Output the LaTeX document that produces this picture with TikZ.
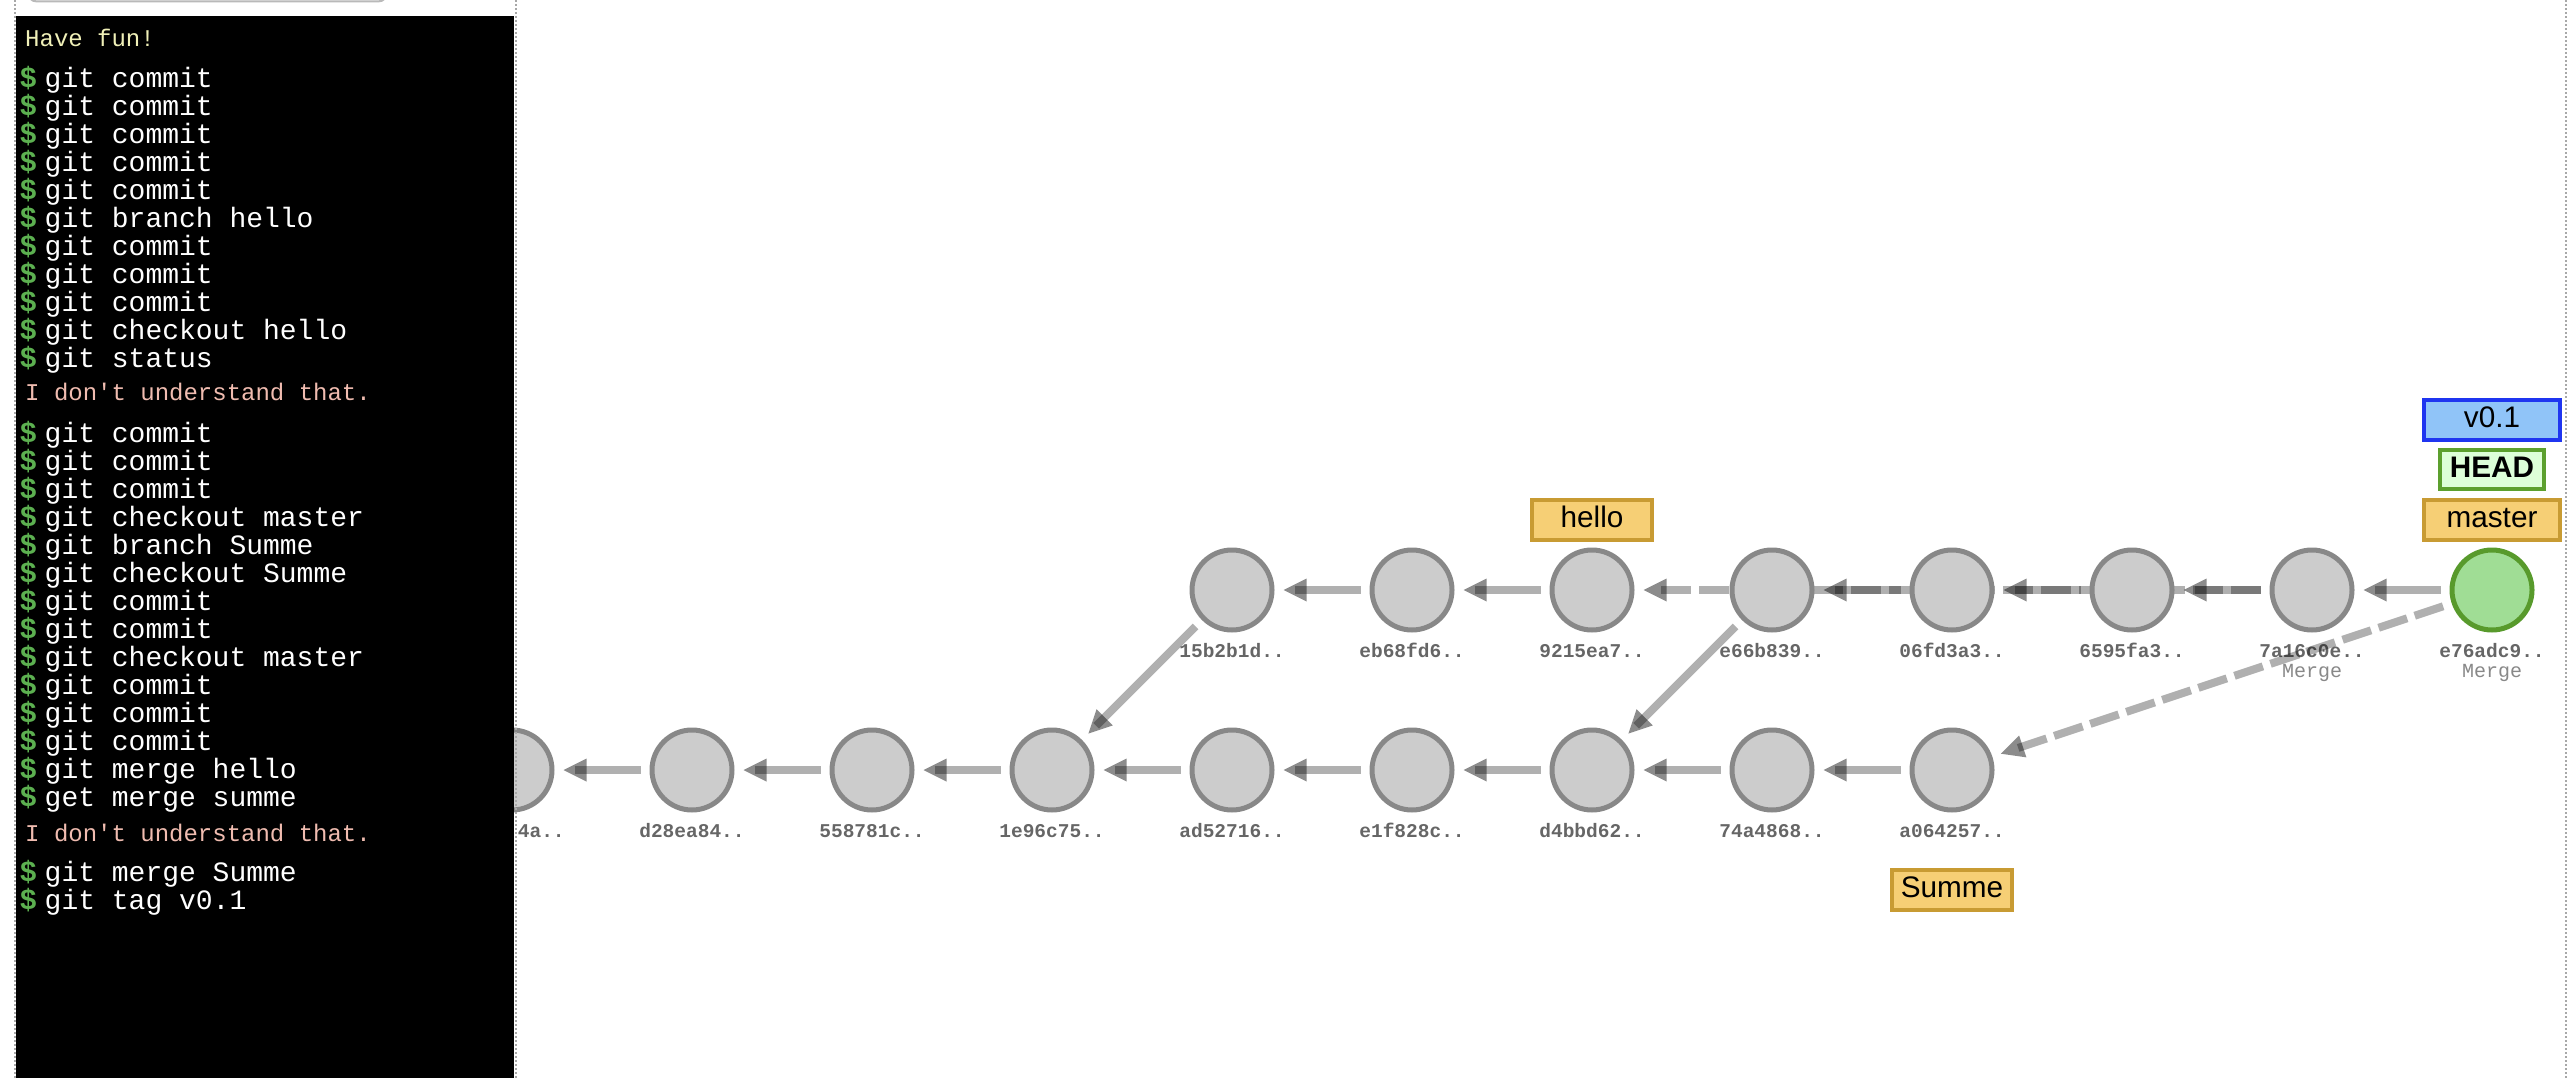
\documentclass[tikz,border=0pt]{standalone}
\usepackage{fontspec}
\setmainfont{Liberation Sans}
\newfontfamily\monofont{Liberation Mono}
\usetikzlibrary{decorations.markings}
\pgfdeclarelayer{bg}
\pgfdeclarelayer{fg}
\pgfsetlayers{bg,main,fg}
\definecolor{nodefill}{HTML}{CCCCCC}
\definecolor{nodedraw}{HTML}{888888}
\definecolor{headfill}{HTML}{A0DD95}
\definecolor{headdraw}{HTML}{589A2C}
\definecolor{brfill}{HTML}{F6CF75}
\definecolor{brdraw}{HTML}{C89B33}
\definecolor{tagfill}{HTML}{90C4F8}
\definecolor{tagdraw}{HTML}{1F35F0}
\definecolor{hfill}{HTML}{DDFFD8}
\definecolor{hdraw}{HTML}{5CA02E}
\definecolor{hashcol}{HTML}{666666}
\definecolor{mergecol}{HTML}{888888}
\definecolor{funcol}{HTML}{F0F0B8}
\definecolor{errcol}{HTML}{F0BCB0}
\definecolor{promptcol}{HTML}{5CB050}
\definecolor{dotcol}{HTML}{A8A8A8}
\tikzset{
  commit/.style={circle, minimum size=80pt, inner sep=0pt, line width=5pt, draw=nodedraw, fill=nodefill},
  headcommit/.style={commit, draw=headdraw, fill=headfill},
  hashlbl/.style={anchor=base, inner sep=0pt, text=hashcol, font=\monofont\bfseries\fontsize{19.5}{19.5}\selectfont},
  mergelbl/.style={anchor=base, inner sep=0pt, text=mergecol, font=\monofont\fontsize{20}{20}\selectfont},
  refbox/.style={rectangle, line width=4pt, inner sep=0pt, minimum height=39.4pt, text height=21.7pt, text depth=6.2pt, font=\fontsize{29.7}{29.7}\selectfont},
  branchbox/.style={refbox, draw=brdraw, fill=brfill},
  tagbox/.style={refbox, draw=tagdraw, fill=tagfill},
  headbox/.style={refbox, draw=hdraw, fill=hfill, minimum height=38.7pt, font=\bfseries\fontsize{29.7}{29.7}\selectfont},
  edgeline/.style={line width=8pt, draw=black, draw opacity=0.31, shorten <=9pt, shorten >=20pt,
    postaction={decorate},
    decoration={markings, mark=at position -9pt with {\fill[black, fill opacity=0.45] (0pt,0pt) -- (-23pt,11.5pt) -- (-23pt,-11.5pt) -- cycle;}}},
  mergeline/.style={edgeline, dash pattern=on 30pt off 8pt},
  cmdtext/.style={anchor=base west, inner sep=0pt, text=white, font=\monofont\fontsize{28}{28}\selectfont},
  prompttext/.style={anchor=base west, inner sep=0pt, text=promptcol, font=\monofont\bfseries\fontsize{29}{29}\selectfont},
  msgtext/.style={anchor=base west, inner sep=0pt, font=\monofont\fontsize{24}{24}\selectfont},
  dotborder/.style={draw=dotcol, line width=2.5pt, dash pattern=on 2pt off 2pt},
}
\begin{document}
\begin{tikzpicture}[x=1pt,y=-1pt]
\useasboundingbox (0,0) rectangle (2576,1078);

% commits, bottom row
\node[commit] (B0) at (512,770) {};
\node[commit] (B1) at (692,770) {};
\node[commit] (B2) at (872,770) {};
\node[commit] (B3) at (1052,770) {};
\node[commit] (B4) at (1232,770) {};
\node[commit] (B5) at (1412,770) {};
\node[commit] (B6) at (1592,770) {};
\node[commit] (B7) at (1772,770) {};
\node[commit] (B8) at (1952,770) {};
% commits, top row
\node[commit] (T4) at (1232,590) {};
\node[commit] (T5) at (1412,590) {};
\node[commit] (T6) at (1592,590) {};
\node[commit] (T7) at (1772,590) {};
\node[commit] (T8) at (1952,590) {};
\node[commit] (T9) at (2132,590) {};
\node[commit] (T10) at (2312,590) {};
\node[headcommit] (T11) at (2492,590) {};

% refs
\node[branchbox, minimum width=120pt] (hello) at (1592,520) {hello};
\node[branchbox, minimum width=120pt] (summe) at (1952,890) {Summe};
\node[branchbox, minimum width=135.4pt] (master) at (2492,520) {master};
\node[headbox, minimum width=103.4pt] (head) at (2492,469.7) {HEAD};
\node[tagbox, minimum width=135.4pt] (tag) at (2492,420) {v0.1};

\begin{pgfonlayer}{bg}
  % hash labels
  \node[hashlbl] (lB0) at (512,837) {\phantom{00000}4a..};
  \node[hashlbl] (lB1) at (692,837) {d28ea84..};
  \node[hashlbl] (lB2) at (872,837) {558781c..};
  \node[hashlbl] (lB3) at (1052,837) {1e96c75..};
  \node[hashlbl] (lB4) at (1232,837) {ad52716..};
  \node[hashlbl] (lB5) at (1412,837) {e1f828c..};
  \node[hashlbl] (lB6) at (1592,837) {d4bbd62..};
  \node[hashlbl] (lB7) at (1772,837) {74a4868..};
  \node[hashlbl] (lB8) at (1952,837) {a064257..};
  \node[hashlbl] (lT4) at (1232,657.7) {15b2b1d..};
  \node[hashlbl] (lT5) at (1412,657.7) {eb68fd6..};
  \node[hashlbl] (lT6) at (1592,657.7) {9215ea7..};
  \node[hashlbl] (lT7) at (1772,657.7) {e66b839..};
  \node[hashlbl] (lT8) at (1952,657.7) {06fd3a3..};
  \node[hashlbl] (lT9) at (2132,657.7) {6595fa3..};
  \node[hashlbl] (lT10) at (2312,657.7) {7a16c0e..};
  \node[hashlbl] (lT11) at (2492,657.7) {e76adc9..};
  \node[mergelbl] (mT10) at (2312,677.7) {Merge};
  \node[mergelbl] (mT11) at (2492,677.7) {Merge};
  % edges
  \draw[edgeline] (B1) -- (B0);
  \draw[edgeline] (B2) -- (B1);
  \draw[edgeline] (B3) -- (B2);
  \draw[edgeline] (B4) -- (B3);
  \draw[edgeline] (B5) -- (B4);
  \draw[edgeline] (B6) -- (B5);
  \draw[edgeline] (B7) -- (B6);
  \draw[edgeline] (B8) -- (B7);
  \draw[edgeline] (T4) -- (B3);
  \draw[edgeline] (T5) -- (T4);
  \draw[edgeline] (T6) -- (T5);
  \draw[edgeline] (T7) -- (B6);
  \draw[edgeline] (T8) -- (T7);
  \draw[edgeline] (T9) -- (T8);
  \draw[edgeline] (T10) -- (T9);
  \draw[mergeline] (T10) -- (T6);
  \draw[edgeline] (T11) -- (T10);
  \draw[mergeline] (T11) -- (B8);
\end{pgfonlayer}

\begin{pgfonlayer}{fg}
  % input box edge at the top
  \draw[draw=dotcol!80, line width=2pt, rounded corners=10pt] (27,-30) rectangle (388,1.5);
  % terminal
  \fill[black] (16,16) rectangle (513.5,1078);
  \draw[dotborder] (15,0) -- (15,1078);
  \draw[dotborder] (516,0) -- (516,1078);
  \draw[dotborder] (2566,0) -- (2566,1078);
  \node[msgtext, text=funcol] (fun) at (25,46.7) {Have fun!};
  \foreach \t [count=\i from 0] in {git commit,git commit,git commit,git commit,git commit,git branch hello,git commit,git commit,git commit,git checkout hello,git status}{
    \node[prompttext] (pa\i) at (19.5,{87.3+28*\i}) {\$};
    \node[cmdtext] (ca\i) at (44.5,{87.3+28*\i}) {\t};
  }
  \node[msgtext, text=errcol] (err1) at (25,400) {I don't understand that.};
  \foreach \t [count=\i from 0] in {git commit,git commit,git commit,git checkout master,git branch Summe,git checkout Summe,git commit,git commit,git checkout master,git commit,git commit,git commit,git merge hello,get merge summe}{
    \node[prompttext] (pb\i) at (19.5,{442.3+28*\i}) {\$};
    \node[cmdtext] (cb\i) at (44.5,{442.3+28*\i}) {\t};
  }
  \node[msgtext, text=errcol] (err2) at (25,841.7) {I don't understand that.};
  \foreach \t [count=\i from 0] in {git merge Summe,git tag v0.1}{
    \node[prompttext] (pc\i) at (19.5,{881.7+28*\i}) {\$};
    \node[cmdtext] (cc\i) at (44.5,{881.7+28*\i}) {\t};
  }
\end{pgfonlayer}
\end{tikzpicture}
\end{document}
